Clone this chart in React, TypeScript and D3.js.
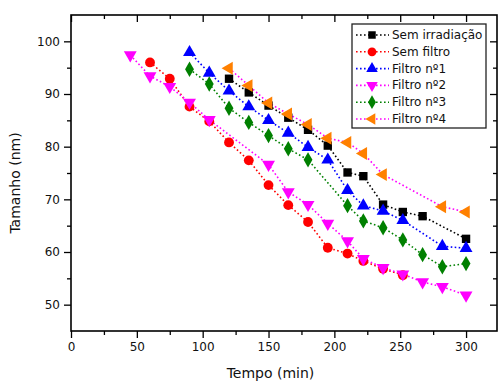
import * as d3 from 'd3';
import React, { useEffect, useRef } from 'react';

// --- data ---
const semIrradTime = [120, 135, 150, 165, 180, 195, 210, 222, 237, 252, 267, 300];
const semIrradSize = [92.9, 90.3, 87.8, 85.5, 83.2, 80.2, 75.1, 74.4, 69.0, 67.6, 66.8, 62.5];

const semFiltroTime = [60, 75, 90, 105, 120, 135, 150, 165, 180, 195, 210, 222, 237, 252];
const semFiltroSize = [96.0, 92.9, 87.6, 84.8, 80.8, 77.4, 72.7, 68.9, 65.7, 60.8, 59.7, 58.3, 56.8, 55.6];

const filtro1Time = [90, 105, 120, 135, 150, 165, 180, 195, 210, 222, 237, 252, 282, 300];
const filtro1Size = [97.9, 94.0, 90.6, 87.6, 85.0, 82.6, 79.9, 77.5, 71.7, 68.8, 67.8, 66.0, 61.1, 60.7];

const filtro2Time = [45, 60, 75, 90, 105, 150, 165, 180, 195, 210, 222, 237, 252, 267, 282, 300];
const filtro2Size = [97.4, 93.4, 91.4, 88.4, 85.1, 76.6, 71.4, 69.0, 65.4, 62.1, 58.7, 57.0, 55.8, 54.3, 53.4, 51.8];

const filtro3Time = [90, 105, 120, 135, 150, 165, 180, 210, 222, 237, 252, 267, 282, 300];
const filtro3Size = [94.7, 91.9, 87.3, 84.6, 82.1, 79.6, 77.5, 68.8, 65.9, 64.6, 62.3, 59.5, 57.2, 57.8];

const filtro4Time = [120, 135, 150, 165, 180, 195, 210, 222, 237, 282, 300];
const filtro4Size = [94.9, 91.6, 88.3, 86.2, 84.2, 81.6, 80.8, 78.7, 74.7, 68.6, 67.6];

const xTicks = [0, 50, 100, 150, 200, 250, 300];
const yTicks = [50, 60, 70, 80, 90, 100];

const seriesList = [
    { name: 'Sem irradiação', time: semIrradTime, size: semIrradSize, line: '#000000', fill: '#000000', shape: 'square' },
    { name: 'Sem filtro', time: semFiltroTime, size: semFiltroSize, line: '#ff0000', fill: '#ff0000', shape: 'circle' },
    { name: 'Filtro nº1', time: filtro1Time, size: filtro1Size, line: '#0000ff', fill: '#0000ff', shape: 'up' },
    { name: 'Filtro nº2', time: filtro2Time, size: filtro2Size, line: '#ff00ff', fill: '#ff00ff', shape: 'down' },
    { name: 'Filtro nº3', time: filtro3Time, size: filtro3Size, line: '#008000', fill: '#008000', shape: 'diamond' },
    { name: 'Filtro nº4', time: filtro4Time, size: filtro4Size, line: '#ff00ff', fill: '#ff8000', shape: 'left' },
];

const FONT = '"DejaVu Sans", sans-serif';

function markerPath(shape: string, scale = 1) {
    if (shape === 'square') return d3.symbol(d3.symbolSquare, 70 * scale)();
    if (shape === 'circle') return d3.symbol(d3.symbolCircle, 76 * scale)();
    if (shape === 'diamond') return d3.symbol(d3.symbolDiamond, 68 * scale)();
    return d3.symbol(d3.symbolTriangle, 72 * scale)();
}

function markerRotate(shape: string) {
    if (shape === 'down') return 180;
    if (shape === 'left') return -90;
    return 0;
}

function TamanhoChart({ width = 498, height = 383 }) {
    const svgRef = useRef<SVGSVGElement>(null);

    useEffect(() => {
        const svg = d3.select(svgRef.current);
        svg.selectAll('*').remove();

        const left = 71, right = 497, top = 15, bottom = 331;

        const x = d3.scaleLinear().domain([0, 323.5]).range([left, right]);
        const y = d3.scaleLinear().domain([45, 105]).range([bottom, top]);

        const minorX = d3.range(25, 325, 50);
        const minorY = d3.range(55, 105, 10);

        // --- axes ---
        const styleAxis = (g: any) => {
            g.select('.domain').remove();
            g.selectAll('line').attr('stroke', '#000').attr('stroke-width', 1.3);
            g.selectAll('text').attr('font-family', FONT).attr('font-size', 12).attr('fill', '#111');
        };

        svg.append('g').attr('transform', `translate(0,${bottom})`)
            .call(d3.axisBottom(x).tickValues(xTicks).tickSize(7).tickPadding(4).tickFormat(d3.format('d')))
            .call(styleAxis);
        svg.append('g').attr('transform', `translate(0,${bottom})`)
            .call(d3.axisBottom(x).tickValues(minorX).tickSize(4).tickFormat(() => ''))
            .call(styleAxis);
        svg.append('g').attr('transform', `translate(${left},0)`)
            .call(d3.axisLeft(y).tickValues(yTicks).tickSize(7).tickPadding(4).tickFormat(d3.format('d')))
            .call(styleAxis);
        svg.append('g').attr('transform', `translate(${left},0)`)
            .call(d3.axisLeft(y).tickValues(minorY).tickSize(4).tickFormat(() => ''))
            .call(styleAxis);
        // mirrored inner ticks on top / right
        svg.append('g').attr('transform', `translate(0,${top})`)
            .call(d3.axisBottom(x).tickValues(xTicks).tickSize(7).tickFormat(() => ''))
            .call(styleAxis);
        svg.append('g').attr('transform', `translate(0,${top})`)
            .call(d3.axisBottom(x).tickValues(minorX).tickSize(4).tickFormat(() => ''))
            .call(styleAxis);
        svg.append('g').attr('transform', `translate(${right},0)`)
            .call(d3.axisLeft(y).tickValues(yTicks).tickSize(7).tickFormat(() => ''))
            .call(styleAxis);
        svg.append('g').attr('transform', `translate(${right},0)`)
            .call(d3.axisLeft(y).tickValues(minorY).tickSize(4).tickFormat(() => ''))
            .call(styleAxis);

        svg.append('rect')
            .attr('x', left).attr('y', top)
            .attr('width', right - left).attr('height', bottom - top)
            .attr('fill', 'none').attr('stroke', '#000').attr('stroke-width', 1.6);

        // axis titles
        svg.append('text')
            .attr('x', (left + 466) / 2 + 2).attr('y', 378)
            .attr('text-anchor', 'middle')
            .attr('font-family', FONT).attr('font-size', 14).attr('fill', '#111')
            .text('Tempo (min)');
        svg.append('text')
            .attr('transform', `translate(20,${183}) rotate(-90)`)
            .attr('text-anchor', 'middle')
            .attr('font-family', FONT).attr('font-size', 14).attr('fill', '#111')
            .text('Tamanho (nm)');

        // --- series ---
        const lineGen = d3.line<[number, number]>().x(d => x(d[0])).y(d => y(d[1]));

        seriesList.forEach(s => {
            const pts: [number, number][] = s.time.map((t, i) => [t, s.size[i]]);
            svg.append('path')
                .attr('d', lineGen(pts))
                .attr('fill', 'none')
                .attr('stroke', s.line)
                .attr('stroke-width', 1.6)
                .attr('stroke-dasharray', '1.6,2.4');
        });

        seriesList.forEach(s => {
            const pts: [number, number][] = s.time.map((t, i) => [t, s.size[i]]);
            svg.append('g').selectAll('path')
                .data(pts)
                .join('path')
                .attr('d', markerPath(s.shape))
                .attr('transform', d => `translate(${x(d[0])},${y(d[1])}) rotate(${markerRotate(s.shape)})`)
                .attr('fill', s.fill);
        });

        // --- legend ---
        const lg = svg.append('g');
        lg.append('rect')
            .attr('x', 352).attr('y', 24).attr('width', 134).attr('height', 104)
            .attr('fill', '#fff').attr('stroke', '#222').attr('stroke-width', 1.3);
        seriesList.forEach((s, i) => {
            const cy = 35 + i * 16.8;
            lg.append('line')
                .attr('x1', 356).attr('x2', 389).attr('y1', cy).attr('y2', cy)
                .attr('stroke', s.line).attr('stroke-width', 1.6)
                .attr('stroke-dasharray', '1.6,2.4');
            lg.append('path')
                .attr('d', markerPath(s.shape, 0.8))
                .attr('transform', `translate(372,${cy}) rotate(${markerRotate(s.shape)})`)
                .attr('fill', s.fill);
            lg.append('text')
                .attr('x', 392).attr('y', cy + 4)
                .attr('font-family', FONT).attr('font-size', 12).attr('fill', '#111')
                .text(s.name);
        });
    }, [width, height]);

    return <svg ref={svgRef} width={width} height={height} style={{ display: 'block' }} />;
}

export default function App() {
    return (
        <div style={{ position: 'absolute', left: 0, top: 0, width: 498, height: 383, background: '#fff' }}>
            <TamanhoChart />
        </div>
    );
}
